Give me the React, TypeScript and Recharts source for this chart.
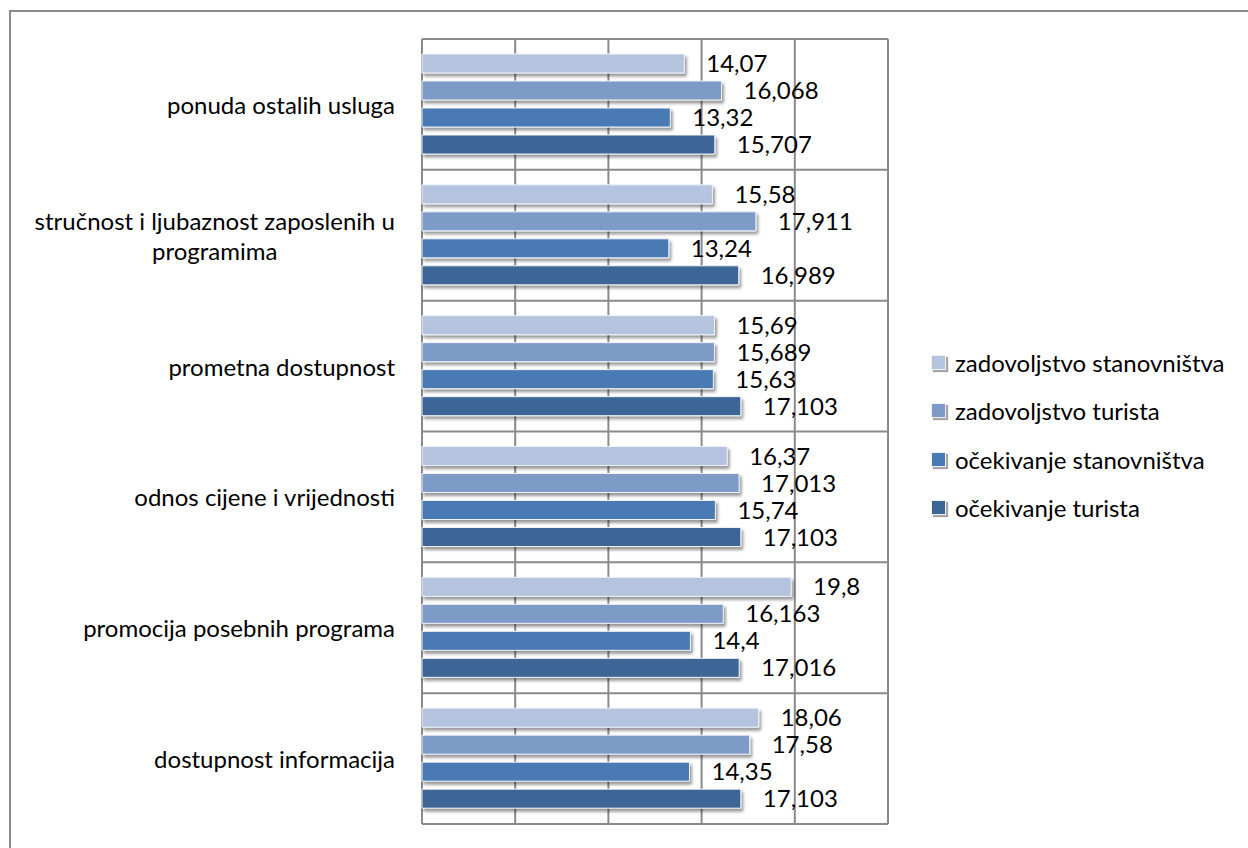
import { Bar, BarChart, CartesianGrid, LabelList, XAxis, YAxis } from "recharts";

const categories = [
  "ponuda ostalih usluga",
  "stručnost i ljubaznost zaposlenih u\nprogramima",
  "prometna dostupnost",
  "odnos cijene i vrijednosti",
  "promocija posebnih programa",
  "dostupnost informacija",
];

const zadovoljstvoStanovnistva = [14.07, 15.58, 15.69, 16.37, 19.8, 18.06];
const zadovoljstvoTurista = [16.068, 17.911, 15.689, 17.013, 16.163, 17.58];
const ocekivanjeStanovnistva = [13.32, 13.24, 15.63, 15.74, 14.4, 14.35];
const ocekivanjeTurista = [15.707, 16.989, 17.103, 17.103, 17.016, 17.103];

const seriesNames = [
  "zadovoljstvo stanovništva",
  "zadovoljstvo turista",
  "očekivanje stanovništva",
  "očekivanje turista",
];
const xTicks = [0, 5, 10, 15, 20, 25];

const colors = ["#b4c3de", "#7e9bc8", "#4a7ab4", "#3d6595"];
const font = "Lato, 'Open Sans', sans-serif";
const textSize = 24;

const seriesValues = [zadovoljstvoStanovnistva, zadovoljstvoTurista, ocekivanjeStanovnistva, ocekivanjeTurista];
const data = categories.map((name, i) => ({
  name,
  s0: seriesValues[0][i],
  s1: seriesValues[1][i],
  s2: seriesValues[2][i],
  s3: seriesValues[3][i],
}));

let ctx: CanvasRenderingContext2D | null = null;
function textWidth(text: string, size: number) {
  if (!ctx) ctx = document.createElement("canvas").getContext("2d");
  if (!ctx) return text.length * size * 0.5;
  ctx.font = `${size}px Lato`;
  return ctx.measureText(text).width;
}

function CategoryTick(props: any) {
  const { x, y, payload } = props;
  const lines = String(payload.value).split("\n");
  const size = textSize;
  if (lines.length === 1) {
    return (
      <text x={x} y={y} textAnchor="end" dominantBaseline="central" fontSize={size} fontFamily={font} fill="#000">
        {lines[0]}
      </text>
    );
  }
  const w = Math.max(...lines.map((l) => textWidth(l, size)));
  const cx = x - w / 2;
  const lh = 30;
  return (
    <g>
      {lines.map((l, i) => (
        <text
          key={i}
          x={cx}
          y={y + (i - (lines.length - 1) / 2) * lh}
          textAnchor="middle"
          dominantBaseline="central"
          fontSize={size}
          fontFamily={font}
          fill="#000"
        >
          {l}
        </text>
      ))}
    </g>
  );
}

function ChartLegend() {
  return (
    <div
      style={{
        position: "absolute",
        left: 931,
        top: 338,
        fontFamily: font,
        fontSize: textSize,
        color: "#000",
        whiteSpace: "nowrap",
      }}
    >
      {seriesNames.map((n, i) => (
        <div key={n} style={{ display: "flex", alignItems: "center", height: 48.5 }}>
          <span
            style={{
              width: 15,
              height: 15,
              background: colors[i],
              marginRight: 9,
              boxShadow: "2px 2px 1px rgba(0,0,0,0.35)",
              border: "1px solid #eef2f8",
              boxSizing: "border-box",
              flex: "none",
            }}
          />
          {n}
        </div>
      ))}
    </div>
  );
}

const fmt = (v: any) => String(v).replace(".", ",");

export default function App() {
  return (
    <div style={{ position: "fixed", left: 0, top: 0, width: 1248, height: 848, background: "#fff", overflow: "hidden" }}>
      <div
        style={{
          position: "absolute",
          left: 9,
          top: 10,
          width: 1300,
          height: 900,
          borderLeft: "2px solid #8a8a8a",
          borderTop: "2px solid #8a8a8a",
        }}
      />
      <div style={{ position: "absolute", left: 0, top: 0 }}>
        <BarChart
          width={1248}
          height={848}
          data={data}
          layout="vertical"
          margin={{ top: 39, right: 360, bottom: 24, left: 0 }}
          barSize={19}
          barGap={8}
        >
          <defs>
            <filter id="barShadow" x="-5%" y="-30%" width="115%" height="200%">
              <feDropShadow dx="2" dy="3" stdDeviation="1.6" floodColor="#000" floodOpacity="0.4" />
            </filter>
          </defs>
          <CartesianGrid
            stroke="#8a8a8a"
            strokeWidth={2}
            horizontalCoordinatesGenerator={({ offset }: any) => [
              ...categories.map((_, i) => offset.top + (offset.height * i) / categories.length),
              offset.top + offset.height,
            ]}
          />
          <XAxis type="number" domain={[0, 25]} ticks={xTicks} hide />
          <YAxis
            type="category"
            dataKey="name"
            width={422}
            axisLine={false}
            tickLine={false}
            tickSize={0}
            tickMargin={27}
            interval={0}
            tick={<CategoryTick />}
          />
          {seriesNames.map((n, i) => (
            <Bar
              key={n}
              dataKey={`s${i}`}
              name={n}
              fill={colors[i]}
              stroke="#eef2f8"
              strokeWidth={1}
              filter="url(#barShadow)"
              isAnimationActive={false}
            >
              <LabelList
                dataKey={`s${i}`}
                position="right"
                offset={22}
                formatter={fmt}
                fontSize={textSize}
                fontFamily={font}
                fill="#000"
              />
            </Bar>
          ))}
        </BarChart>
      </div>
      <ChartLegend />
    </div>
  );
}
